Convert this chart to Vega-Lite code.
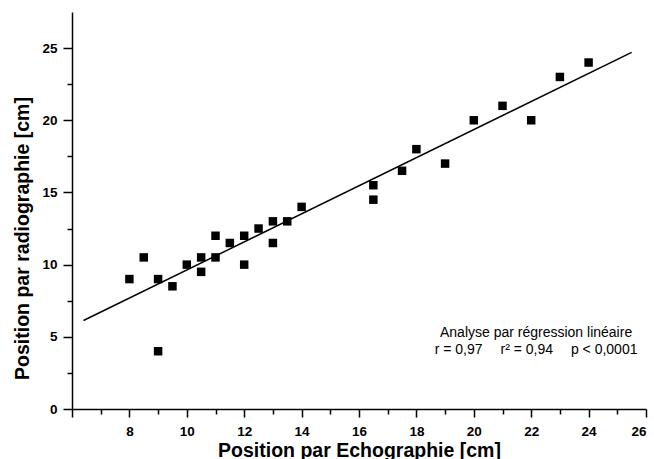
{
  "$schema": "https://vega.github.io/schema/vega-lite/v6.json",
  "width": 574,
  "height": 397,
  "autosize": "none",
  "padding": {"left": 72, "top": 12, "right": 8, "bottom": 50},
  "background": "white",
  "config": {
    "view": {"stroke": null},
    "font": "Liberation Sans",
    "axis": {
      "grid": false,
      "domainColor": "black",
      "domainWidth": 1.5,
      "tickColor": "black",
      "tickWidth": 1.5,
      "labelColor": "black",
      "labelFont": "Liberation Sans",
      "labelFontWeight": "bold",
      "labelFontSize": 13.5,
      "titleColor": "black",
      "titleFont": "Liberation Sans",
      "titleFontWeight": "bold",
      "titleFontSize": 19.5
    }
  },
  "datasets": {
    "mesures": [
      {"echo": 8, "radio": 9},
      {"echo": 8.5, "radio": 10.5},
      {"echo": 9, "radio": 9},
      {"echo": 9, "radio": 4},
      {"echo": 9.5, "radio": 8.5},
      {"echo": 10, "radio": 10},
      {"echo": 10.5, "radio": 10.5},
      {"echo": 10.5, "radio": 9.5},
      {"echo": 11, "radio": 12},
      {"echo": 11, "radio": 10.5},
      {"echo": 11.5, "radio": 11.5},
      {"echo": 12, "radio": 12},
      {"echo": 12, "radio": 10},
      {"echo": 12.5, "radio": 12.5},
      {"echo": 13, "radio": 13},
      {"echo": 13, "radio": 11.5},
      {"echo": 13.5, "radio": 13},
      {"echo": 14, "radio": 14},
      {"echo": 16.5, "radio": 15.5},
      {"echo": 16.5, "radio": 14.5},
      {"echo": 17.5, "radio": 16.5},
      {"echo": 18, "radio": 18},
      {"echo": 19, "radio": 17},
      {"echo": 20, "radio": 20},
      {"echo": 21, "radio": 21},
      {"echo": 22, "radio": 20},
      {"echo": 23, "radio": 23},
      {"echo": 24, "radio": 24}
    ],
    "droite": [
      {"echo": 6.4, "radio": 6.13},
      {"echo": 25.5, "radio": 24.7}
    ]
  },
  "layer": [
    {
      "data": {"name": "mesures"},
      "mark": {"type": "point", "shape": "square", "filled": true, "size": 72, "color": "black", "opacity": 1},
      "encoding": {
        "x": {
          "field": "echo",
          "type": "quantitative",
          "scale": {"domain": [6, 26], "nice": false, "zero": false},
          "axis": {
            "orient": "bottom",
            "values": [6, 8, 10, 12, 14, 16, 18, 20, 22, 24, 26],
            "labelExpr": "datum.value == 6 ? '' : datum.label",
            "tickSize": 8,
            "labelPadding": 7,
            "title": "Position par Echographie [cm]",
            "titleBaseline": "alphabetic",
            "titleY": 47
          }
        },
        "y": {
          "field": "radio",
          "type": "quantitative",
          "scale": {"domain": [0, 27.5], "nice": false, "zero": true},
          "axis": {
            "orient": "left",
            "values": [0, 5, 10, 15, 20, 25],
            "tickSize": 9,
            "labelPadding": 6,
            "title": "Position par radiographie [cm]",
            "titleBaseline": "alphabetic",
            "titleAlign": "center",
            "titleAngle": -90,
            "titleX": -44,
            "titleY": 226
          }
        }
      }
    },
    {
      "data": {"name": "droite"},
      "mark": {"type": "line", "color": "black", "strokeWidth": 1.5},
      "encoding": {
        "x": {
          "field": "echo",
          "type": "quantitative",
          "axis": {
            "orient": "bottom",
            "values": [7, 9, 11, 13, 15, 17, 19, 21, 23, 25],
            "labels": false,
            "domain": false,
            "tickSize": 5,
            "title": null
          }
        },
        "y": {
          "field": "radio",
          "type": "quantitative",
          "axis": {
            "orient": "left",
            "values": [2.5, 7.5, 12.5, 17.5, 22.5],
            "labels": false,
            "domain": false,
            "tickSize": 5,
            "title": null
          }
        }
      }
    },
    {
      "data": {"values": [{}]},
      "mark": {"type": "text", "align": "center", "baseline": "alphabetic", "fontSize": 14, "font": "Liberation Sans", "color": "black"},
      "encoding": {
        "x": {"datum": 22.17, "type": "quantitative", "axis": null},
        "y": {"datum": 4.97, "type": "quantitative", "axis": null},
        "text": {"value": "Analyse par régression linéaire"}
      }
    },
    {
      "data": {"values": [{}]},
      "mark": {"type": "text", "align": "center", "baseline": "alphabetic", "fontSize": 14, "font": "Liberation Sans", "color": "black"},
      "encoding": {
        "x": {"datum": 22.17, "type": "quantitative", "axis": null},
        "y": {"datum": 3.79, "type": "quantitative", "axis": null},
        "text": {"value": "r = 0,97\u2002\u2002\u00a0r² = 0,94\u2002\u2002\u00a0p < 0,0001"}
      }
    }
  ],
  "resolve": {"axis": {"x": "independent", "y": "independent"}}
}
